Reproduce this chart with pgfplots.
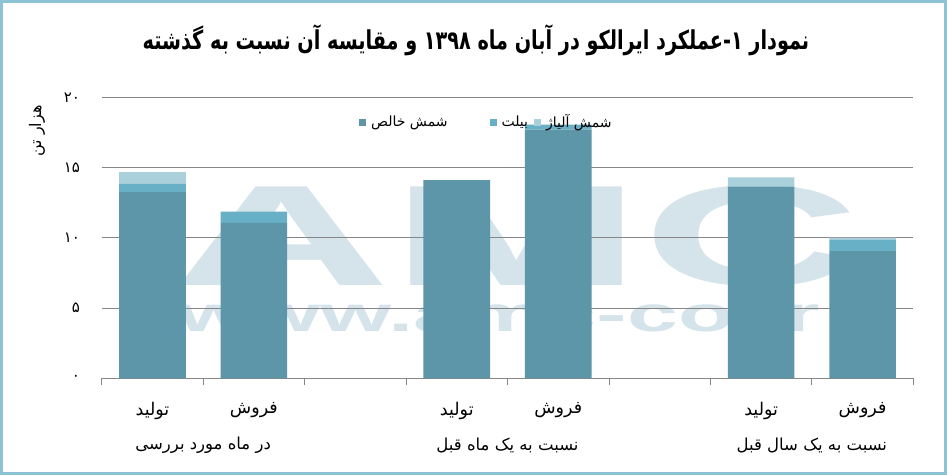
\documentclass[border=0pt]{standalone}
\usepackage{fontspec}
\usepackage{graphicx}
\usepackage{pgfplots}
\pgfplotsset{compat=1.18}
\TeXXeTstate=1
\newfontfamily\arabicfont[Script=Arabic]{DejaVu Sans}
\newfontfamily\wmfont{Liberation Sans}
\definecolor{pure}{RGB}{92,150,168}
\definecolor{billet}{RGB}{104,176,197}
\definecolor{alloy}{RGB}{170,208,220}
\definecolor{wm}{RGB}{213,227,234}
\definecolor{framec}{RGB}{140,196,214}
\definecolor{gridc}{RGB}{134,134,134}
\begin{document}
\begin{tikzpicture}
\useasboundingbox (0,0) rectangle (947pt,475pt);
\fill[white] (0,0) rectangle (947pt,475pt);
\draw[framec, line width=3pt] (1.5pt,1.5pt) rectangle (945.5pt,473.5pt);
% watermark
\node[anchor=south west, inner sep=0, text=wm] at (172pt,188pt) {\resizebox{688pt}{100pt}{\wmfont\bfseries AMC}};
\node[anchor=south west, inner sep=0, text=wm] at (178pt,143pt) {\resizebox{642pt}{36pt}{\wmfont\bfseries www.amc-co.ir}};
% title
\node at (476pt,435pt) {\scalebox{0.74}[1]{\arabicfont\bfseries\fontsize{26}{30}\selectfont\beginR نمودار ۱\kern0pt-\kern0pt عملکرد ایرالکو در آبان ماه ۱۳۹۸ و مقایسه آن نسبت به گذشته\endR}};
% y label
\node[rotate=90] at (37pt,344pt) {\arabicfont\fontsize{16}{18}\selectfont\beginR هزار تن\endR};
\begin{axis}[
  at={(101.7pt,96.7pt)}, anchor=south west,
  width=811.6pt, height=281pt, scale only axis,
  ymin=0, ymax=20, xmin=-0.5, xmax=7.5,
  ybar stacked, bar width=0.657,
  axis x line*=bottom, axis y line*=left,
  y axis line style={draw=none},
  x axis line style={gridc, line width=0.8pt, -},
  ytick={0,5,10,15,20},
  yticklabels={۰,۵,۱۰,۱۵,۲۰},
  yticklabel style={font=\arabicfont\fontsize{15}{17}\selectfont, xshift=-14pt},
  ymajorgrids, grid style={gridc, line width=0.8pt},
  major y tick style={draw=none},
  xtick={0,1,3,4,6,7},
  xticklabels={
    {\beginR تولید\endR},{\beginR فروش\endR},
    {\beginR تولید\endR},{\beginR فروش\endR},
    {\beginR تولید\endR},{\beginR فروش\endR}},
  xticklabel style={font=\arabicfont\fontsize{17.5}{19}\selectfont, anchor=center, yshift=-28pt},
  minor xtick={-0.5,0.5,...,7.5},
  major x tick style={draw=none},
  minor x tick style={gridc, line width=0.8pt},
  minor tick length=7pt, tick align=outside,
  legend style={at={(0.474,0.912)}, anchor=center, draw=none, fill=none,
    font=\arabicfont\fontsize{14}{16}\selectfont,
    /tikz/column 1/.style={column sep=3pt},
    /tikz/column 2/.style={column sep=40pt},
    /tikz/column 3/.style={column sep=3pt},
    /tikz/column 4/.style={column sep=4pt},
    /tikz/column 5/.style={column sep=3pt}},
  legend columns=-1,
  legend image code/.code={\fill[#1] (0pt,-3.5pt) rectangle (7pt,3.5pt);},
  clip=false,
]
\addplot[fill=pure, draw=none] coordinates {(0,13.26) (1,11.07) (3,14.11) (4,17.7) (6,13.64) (7,9.06)};
\addlegendentry{\beginR شمش خالص\endR}
\addplot[fill=billet, draw=none] coordinates {(0,0.57) (1,0.79) (3,0) (4,0.35) (6,0) (7,0.8)};
\addlegendentry{\beginR بیلت\endR}
\addplot[fill=alloy, draw=none] coordinates {(0,0.85) (1,0) (3,0) (4,0) (6,0.66) (7,0.15)};
\addlegendentry{\beginR شمش آلیاژ\endR}
\node[font=\arabicfont\fontsize{16.5}{18}\selectfont] at (axis cs:0.5,0) [yshift=-67pt] {\beginR در ماه مورد بررسی\endR};
\node[font=\arabicfont\fontsize{16.5}{18}\selectfont] at (axis cs:3.5,0) [yshift=-67pt] {\beginR نسبت به یک ماه قبل\endR};
\node[font=\arabicfont\fontsize{16.5}{18}\selectfont] at (axis cs:6.5,0) [yshift=-67pt] {\beginR نسبت به یک سال قبل\endR};
\end{axis}
\end{tikzpicture}
\end{document}
